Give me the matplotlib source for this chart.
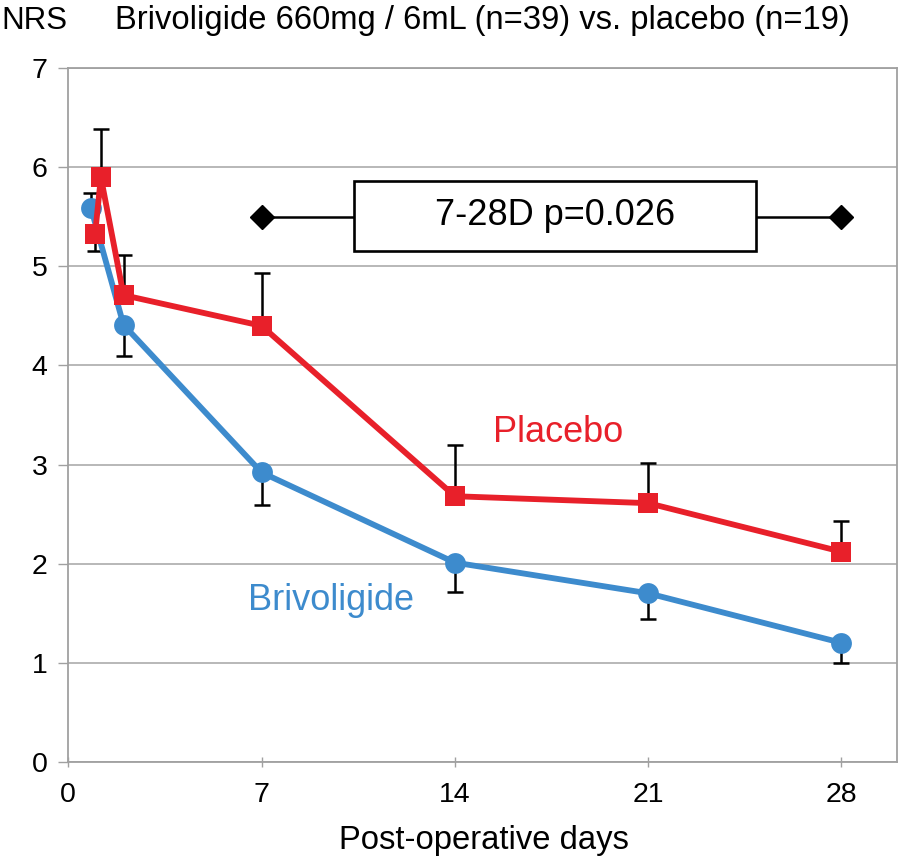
import matplotlib
matplotlib.use("Agg")
import matplotlib.pyplot as plt
from matplotlib.patches import Rectangle

plt.rcParams['font.family'] = ['Liberation Sans', 'DejaVu Sans']

# ---- data ----
placebo_days = [0.97, 1.18, 2, 7, 14, 21, 28]
placebo_nrs = [5.33, 5.90, 4.71, 4.40, 2.68, 2.61, 2.12]
placebo_err_lo = [0.17, 0, 0, 0, 0, 0, 0]
placebo_err_hi = [0, 0.49, 0.41, 0.53, 0.52, 0.41, 0.31]

briv_days = [0.82, 2, 7, 14, 21, 28]
briv_nrs = [5.59, 4.41, 2.92, 2.01, 1.70, 1.20]
briv_err_lo = [0, 0.31, 0.33, 0.30, 0.26, 0.20]
briv_err_hi = [0.15, 0, 0, 0, 0, 0]

x_ticks = [0, 7, 14, 21, 28]
y_ticks = [0, 1, 2, 3, 4, 5, 6, 7]

sig_days = [7, 28]
sig_level = 5.5
sig_text = "7-28D p=0.026"
box_x = (10.35, 24.9)
box_y = (5.16, 5.86)

title = "Brivoligide 660mg / 6mL (n=39) vs. placebo (n=19)"
y_unit = "NRS"
x_label = "Post-operative days"

RED = "#e8202a"
BLUE = "#3d8bcd"
GRID = "#b8b8b8"

fig = plt.figure(figsize=(9, 8.6), dpi=100)
ax = fig.add_axes([0.0759, 0.1143, 0.9204, 0.8063])
ax.set_xlim(0, 30)
ax.set_ylim(0, 7)

for s in ax.spines.values():
    s.set_color("#a0a0a0")
    s.set_linewidth(1.3)

ax.set_yticks(y_ticks)
ax.set_xticks(x_ticks)
ax.yaxis.grid(True, color=GRID, linewidth=1.4)
ax.set_axisbelow(True)
ax.tick_params(axis='y', direction='out', length=7, width=1.0, color="#a0a0a0",
               labelsize=20.5, pad=8)
ax.tick_params(axis='x', direction='inout', length=7, width=1.0, color="#a0a0a0",
               labelsize=20.5, pad=11)

# significance bar
ax.plot(sig_days, [sig_level, sig_level], color='black', lw=1.8, zorder=3)
ax.plot(sig_days, [sig_level, sig_level], linestyle='none', marker='D',
        markersize=12, color='black', zorder=4)
ax.add_patch(Rectangle((box_x[0], box_y[0]), box_x[1] - box_x[0], box_y[1] - box_y[0],
                       facecolor='white', edgecolor='black', lw=1.9, zorder=5))
ax.text(sum(box_x) / 2, sum(box_y) / 2, sig_text, ha='center', va='center',
        fontsize=26, zorder=6)

# error bars
ax.errorbar(briv_days, briv_nrs, yerr=[briv_err_lo, briv_err_hi], fmt='none',
            ecolor='black', elinewidth=1.8, capsize=6, capthick=1.8, zorder=6)
ax.errorbar(placebo_days, placebo_nrs, yerr=[placebo_err_lo, placebo_err_hi], fmt='none',
            ecolor='black', elinewidth=1.8, capsize=6, capthick=1.8, zorder=6)

# series
ax.plot(briv_days, briv_nrs, color=BLUE, lw=4.2, marker='o', markersize=15,
        markeredgewidth=0, zorder=7)
ax.plot(placebo_days, placebo_nrs, color=RED, lw=4.2, marker='s', markersize=15,
        markeredgewidth=0, zorder=8)

ax.text(15.38, 3.23, "Placebo", color=RED, fontsize=26, ha='left', va='baseline', zorder=9)
ax.text(6.51, 1.53, "Brivoligide", color=BLUE, fontsize=26, ha='left', va='baseline', zorder=9)

fig.text(0.002, 0.9663, y_unit, fontsize=22.5, ha='left', va='baseline')
fig.text(0.128, 0.9663, title, fontsize=23.6, ha='left', va='baseline')
fig.text(0.538, 0.013, x_label, fontsize=23.6, ha='center', va='baseline')

fig.savefig("out.png", dpi=100)
